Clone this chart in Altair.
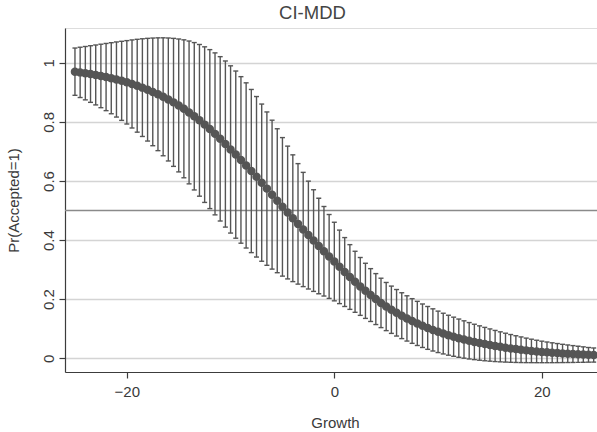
import altair as alt
import pandas as pd

growth = [-25.0, -24.5, -24.0, -23.5, -23.0, -22.5, -22.0, -21.5, -21.0, -20.5,
          -20.0, -19.5, -19.0, -18.5, -18.0, -17.5, -17.0, -16.5, -16.0, -15.5,
          -15.0, -14.5, -14.0, -13.5, -13.0, -12.5, -12.0, -11.5, -11.0, -10.5,
          -10.0, -9.5, -9.0, -8.5, -8.0, -7.5, -7.0, -6.5, -6.0, -5.5,
          -5.0, -4.5, -4.0, -3.5, -3.0, -2.5, -2.0, -1.5, -1.0, -0.5,
          0.0, 0.5, 1.0, 1.5, 2.0, 2.5, 3.0, 3.5, 4.0, 4.5,
          5.0, 5.5, 6.0, 6.5, 7.0, 7.5, 8.0, 8.5, 9.0, 9.5,
          10.0, 10.5, 11.0, 11.5, 12.0, 12.5, 13.0, 13.5, 14.0, 14.5,
          15.0, 15.5, 16.0, 16.5, 17.0, 17.5, 18.0, 18.5, 19.0, 19.5,
          20.0, 20.5, 21.0, 21.5, 22.0, 22.5, 23.0, 23.5, 24.0, 24.5, 25.0]

margin = [.9701, .9676, .9649, .9620, .9589, .9555, .9518, .9478, .9435, .9390,
          .9340, .9284, .9224, .9160, .9090, .9016, .8936, .8850, .8759, .8661,
          .8557, .8443, .8320, .8191, .8053, .7908, .7756, .7595, .7427, .7251,
          .7068, .6893, .6713, .6527, .6337, .6142, .5944, .5742, .5538, .5332,
          .5125, .4933, .4740, .4549, .4359, .4170, .3984, .3801, .3622, .3446,
          .3274, .3094, .2919, .2751, .2589, .2432, .2283, .2140, .2004, .1874,
          .1751, .1643, .1540, .1442, .1349, .1262, .1180, .1102, .1028, .0960,
          .0895, .0836, .0781, .0730, .0681, .0636, .0593, .0553, .0516, .0481,
          .0448, .0416, .0387, .0360, .0334, .0311, .0289, .0268, .0249, .0231,
          .0215, .0201, .0188, .0176, .0164, .0154, .0144, .0134, .0126, .0117, .0110]

ci_lower = [.890, .8825, .8746, .8662, .8575, .8481, .8381, .8276, .8164, .8052,
            .7929, .7794, .7653, .7507, .7352, .7194, .7027, .6854, .6678, .6495,
            .6308, .6109, .5903, .5697, .5486, .5275, .5066, .4854, .4646, .4440,
            .4238, .4064, .3895, .3732, .3576, .3426, .3284, .3147, .3018, .2896,
            .2781, .2686, .2595, .2510, .2426, .2345, .2264, .2185, .2107, .2026,
            .1944, .1850, .1753, .1656, .1556, .1453, .1350, .1246, .1142, .1038,
            .0936, .0843, .0753, .0666, .0583, .0506, .0433, .0366, .0303, .0246,
            .0194, .0147, .0105, .0068, .0034, .0004, -.0023, -.0046, -.0066, -.0084,
            -.0098, -.0111, -.0121, -.0129, -.0136, -.0141, -.0145, -.0147, -.0148, -.0149,
            -.0149, -.0149, -.0148, -.0147, -.0145, -.0143, -.0141, -.0138, -.0135, -.0131, -.0129]

ci_upper = [1.050, 1.0527, 1.0552, 1.0578, 1.0603, 1.0629, 1.0655, 1.0680, 1.0706, 1.0728,
            1.0751, 1.0774, 1.0795, 1.0813, 1.0828, 1.0838, 1.0845, 1.0846, 1.0840, 1.0827,
            1.0806, 1.0777, 1.0737, 1.0685, 1.0620, 1.0541, 1.0446, 1.0336, 1.0208, 1.0062,
            .9898, .9722, .9531, .9322, .9098, .8858, .8604, .8337, .8058, .7768,
            .7469, .7180, .6885, .6588, .6292, .5995, .5704, .5417, .5137, .4866,
            .4604, .4338, .4085, .3846, .3622, .3411, .3216, .3034, .2866, .2710,
            .2566, .2443, .2327, .2218, .2115, .2018, .1927, .1838, .1753, .1674,
            .1596, .1525, .1457, .1392, .1328, .1268, .1209, .1152, .1098, .1046,
            .0994, .0943, .0895, .0849, .0804, .0763, .0723, .0683, .0646, .0611,
            .0579, .0551, .0524, .0499, .0473, .0451, .0429, .0406, .0387, .0365, .0349]

x_ticks = [-20, 0, 20]
y_ticks = [0, 0.2, 0.4, 0.6, 0.8, 1]
ref_line = [0.5]

df = pd.DataFrame({"growth": growth, "margin": margin, "lo": ci_lower, "hi": ci_upper})
ref_df = pd.DataFrame({"v": ref_line})

FONT = "Liberation Sans"
MARK = "#555555"
TXT = "#3a3a3a"

x_scale = alt.Scale(domain=[-25.96, 25.32], nice=False, zero=False)
y_scale = alt.Scale(domain=[-0.0464, 1.1178], nice=False, zero=False)

x_axis = alt.Axis(values=x_ticks, title="Growth", grid=False, format="d",
                  labelFont=FONT, labelFontSize=15, labelColor=TXT, labelPadding=6,
                  tickSize=6, tickColor="#3c3c3c", tickWidth=1.2,
                  domainColor="#3c3c3c", domainWidth=1.2,
                  titleFont=FONT, titleFontSize=15, titleFontWeight="normal", titleColor=TXT,
                  titleX=270, titleY=55, titleBaseline="alphabetic", titleAlign="center")
y_axis = alt.Axis(values=y_ticks, title="Pr(Accepted=1)", grid=True, format="~g",
                  gridColor="#d4d4d4", gridWidth=1.5,
                  labelFont=FONT, labelFontSize=15, labelColor=TXT, labelPadding=5.5,
                  labelAngle=-90, labelAlign="center", labelBaseline="alphabetic",
                  tickSize=6, tickColor="#3c3c3c", tickWidth=1.2,
                  domainColor="#3c3c3c", domainWidth=1.2,
                  titleFont=FONT, titleFontSize=15, titleFontWeight="normal", titleColor=TXT,
                  titleAngle=-90, titleX=-47, titleY=172, titleBaseline="alphabetic",
                  titleAlign="center")

X = alt.X("growth:Q", scale=x_scale, axis=x_axis)

ref = alt.Chart(ref_df).mark_rule(color="#8a8a8a", strokeWidth=1.5).encode(
    y=alt.Y("v:Q", scale=y_scale, axis=y_axis)
)

bars = alt.Chart(df).mark_rule(color=MARK, strokeWidth=1.4).encode(
    x=X,
    y=alt.Y("lo:Q", scale=y_scale, axis=y_axis),
    y2="hi:Q",
)

cap_lo = alt.Chart(df).mark_tick(color=MARK, orient="horizontal", size=5, thickness=1.4, opacity=1).encode(
    x=X, y=alt.Y("lo:Q", scale=y_scale, axis=y_axis)
)
cap_hi = alt.Chart(df).mark_tick(color=MARK, orient="horizontal", size=5, thickness=1.4, opacity=1).encode(
    x=X, y=alt.Y("hi:Q", scale=y_scale, axis=y_axis)
)

pts = alt.Chart(df).mark_circle(color=MARK, size=72, opacity=1).encode(
    x=X, y=alt.Y("margin:Q", scale=y_scale, axis=y_axis)
)

chart = alt.layer(ref, bars, cap_lo, cap_hi, pts).properties(
    width=532,
    height=344,
    title=alt.TitleParams("CI-MDD", font=FONT, fontSize=18.5, fontWeight="normal",
                          color="#444444", anchor="middle", dx=-18.5, dy=17, offset=8,
                          baseline="alphabetic"),
    autosize=alt.AutoSizeParams(type="none"),
    padding={"left": 65, "top": 28, "right": 0, "bottom": 60},
).configure_view(stroke=None).configure(background="white")

chart.save("out.html", embed_options={"renderer": "svg", "actions": False})
